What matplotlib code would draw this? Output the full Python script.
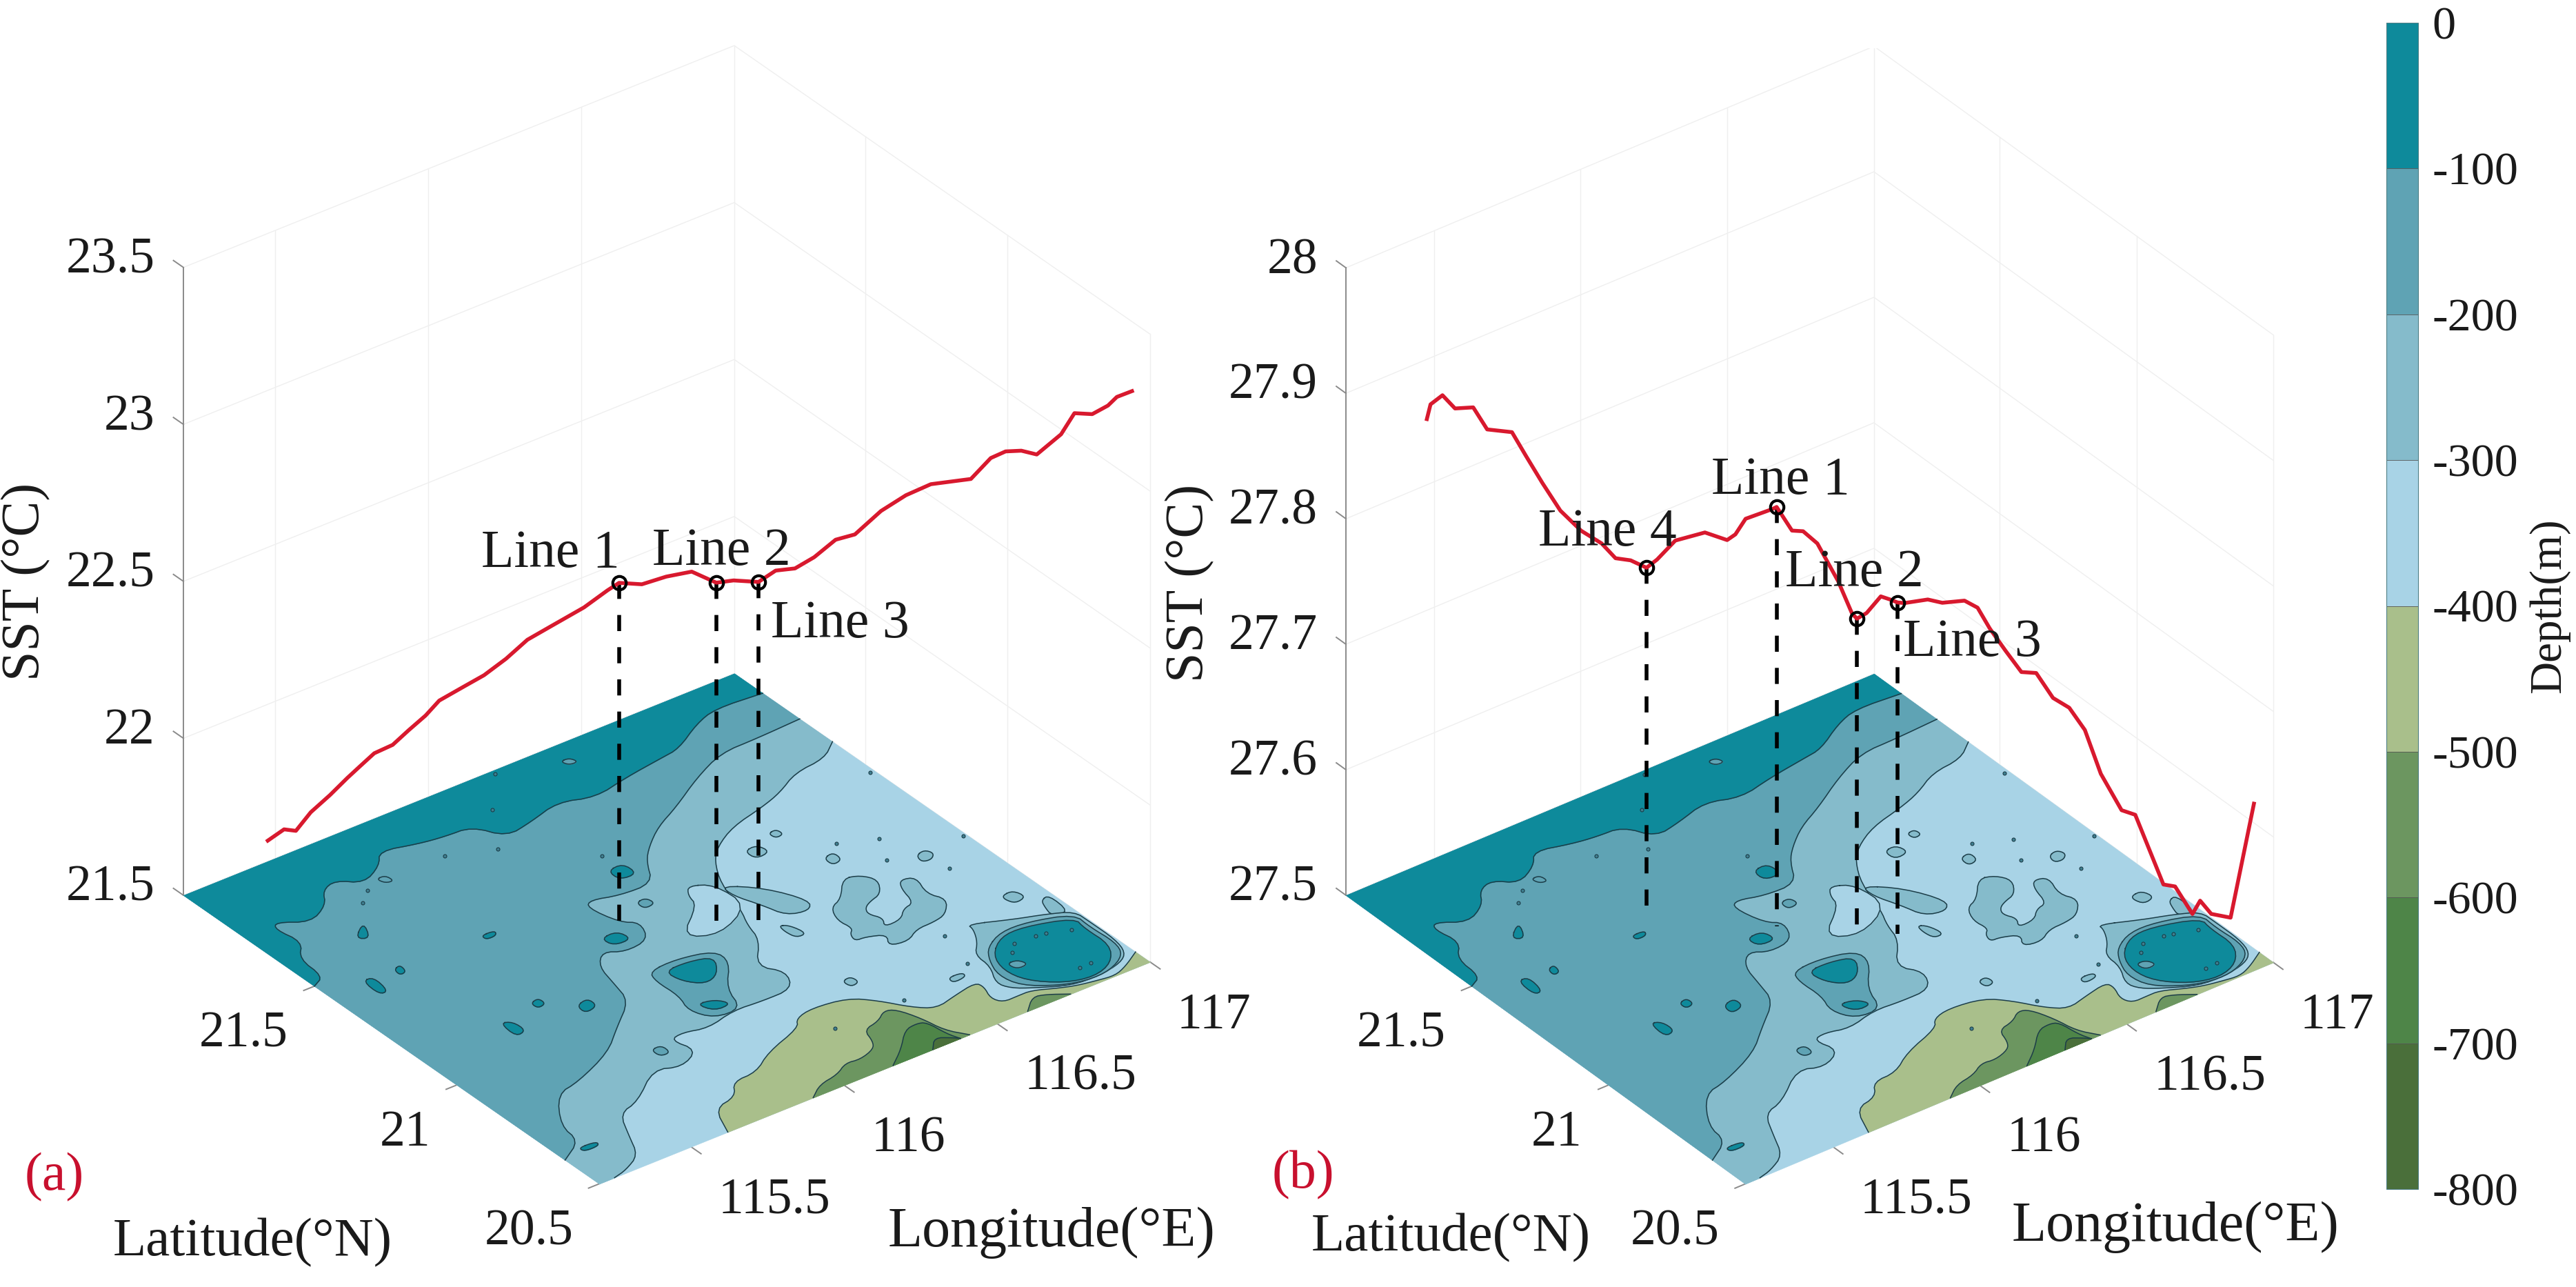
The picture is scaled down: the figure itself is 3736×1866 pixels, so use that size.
# SST along the transect above the bathymetry, two panels and one colorbar
import numpy as np
import matplotlib
matplotlib.use("Agg")
import matplotlib.pyplot as plt
from matplotlib.colors import ListedColormap, BoundaryNorm
from matplotlib.colorbar import ColorbarBase
from mpl_toolkits.mplot3d import proj3d
from mpl_toolkits.mplot3d.art3d import Poly3DCollection

plt.rcParams['font.family'] = ['Liberation Serif', 'DejaVu Serif']

W, H = 3736, 1866

# ---- axes values
lon_min, lon_max = 115.2, 117.0
lat_min, lat_max = 20.5, 21.96
lon_ticks = [115.5, 116, 116.5, 117]
lat_ticks = [20.5, 21, 21.5]
lon_labels = ["115.5", "116", "116.5", "117"]
lat_labels = ["20.5", "21", "21.5"]
z_ticks_a = [21.5, 22, 22.5, 23, 23.5]
z_labels_a = ["21.5", "22", "22.5", "23", "23.5"]
z_ticks_b = [27.5, 27.6, 27.7, 27.8, 27.9, 28]
z_labels_b = ["27.5", "27.6", "27.7", "27.8", "27.9", "28"]

# ---- depth colorbar
depth_levels = [-800, -700, -600, -500, -400, -300, -200, -100, 0]
depth_labels = ["-800", "-700", "-600", "-500", "-400", "-300", "-200", "-100", "0"]
band0, band1, band2, band3 = "#0E8A9B", "#5FA3B4", "#85BBCB", "#A8D3E6"
band4, band5, band6, band7 = "#A9BF8B", "#6C9660", "#4E8548", "#4A6F3A"

# ---- SST along the transect, panel a
lon_a = [115.35, 115.38, 115.40, 115.43, 115.465, 115.50, 115.525, 115.55, 115.585, 115.615,
         115.647, 115.673, 115.72, 115.757, 115.80, 115.84, 115.885, 115.946, 115.99, 116.012,
         116.055, 116.10, 116.149, 116.195, 116.228, 116.275, 116.307, 116.344, 116.38, 116.42,
         116.457, 116.506, 116.553, 116.60, 116.675, 116.713, 116.74, 116.77, 116.80, 116.845,
         116.87, 116.904, 116.934, 116.95, 116.98]
lat_a = [21.825, 21.80, 21.78, 21.76, 21.73, 21.707, 21.687, 21.666, 21.639, 21.615,
         21.59, 21.57, 21.533, 21.503, 21.472, 21.44, 21.403, 21.355, 21.32, 21.303,
         21.269, 21.232, 21.195, 21.158, 21.133, 21.096, 21.07, 21.042, 21.013, 20.981,
         20.953, 20.914, 20.877, 20.84, 20.78, 20.751, 20.728, 20.705, 20.683, 20.646,
         20.626, 20.60, 20.577, 20.563, 20.542]
sst_a = [21.70, 21.74, 21.74, 21.80, 21.86, 21.915, 21.957, 22.00, 22.03, 22.08,
         22.13, 22.18, 22.23, 22.27, 22.325, 22.39, 22.44, 22.505, 22.564, 22.59,
         22.59, 22.62, 22.64, 22.61, 22.62, 22.62, 22.66, 22.67, 22.71, 22.77,
         22.79, 22.87, 22.925, 22.965, 22.99, 23.06, 23.085, 23.09, 23.08, 23.15,
         23.22, 23.22, 23.25, 23.28, 23.30]
line_lon_a = [116.012, 116.195, 116.275]
line_lat_a = [21.303, 21.158, 21.096]
line_sst_a = [22.59, 22.61, 22.62]

# ---- SST along the transect, panel b
lon_b = [115.35, 115.357, 115.38, 115.405, 115.44, 115.468, 115.517, 115.544, 115.577, 115.612,
         115.653, 115.693, 115.72, 115.75, 115.781, 115.802, 115.838, 115.896, 115.94, 115.956,
         115.976, 116.028, 116.037, 116.067, 116.089, 116.117, 116.158, 116.185, 116.195, 116.214,
         116.242, 116.26, 116.275, 116.288, 116.334, 116.363, 116.406, 116.432, 116.456, 116.487,
         116.518, 116.547, 116.58, 116.612, 116.643, 116.674, 116.715, 116.742, 116.797, 116.82,
         116.854, 116.869, 116.891, 116.929, 116.975]
lat_b = [21.825, 21.819, 21.80, 21.781, 21.752, 21.731, 21.693, 21.671, 21.646, 21.618,
         21.586, 21.554, 21.532, 21.509, 21.484, 21.468, 21.44, 21.394, 21.36, 21.347,
         21.331, 21.29, 21.283, 21.259, 21.242, 21.22, 21.188, 21.166, 21.159, 21.144,
         21.122, 21.108, 21.096, 21.085, 21.049, 21.027, 20.992, 20.972, 20.953, 20.928,
         20.904, 20.881, 20.855, 20.83, 20.806, 20.781, 20.749, 20.728, 20.684, 20.666,
         20.639, 20.627, 20.61, 20.58, 20.544]
sst_b = [27.886, 27.898, 27.906, 27.896, 27.898, 27.881, 27.88, 27.862, 27.841, 27.82,
         27.805, 27.796, 27.785, 27.784, 27.779, 27.786, 27.802, 27.81, 27.805, 27.81,
         27.823, 27.832, 27.834, 27.816, 27.816, 27.807, 27.778, 27.753, 27.749, 27.754,
         27.768, 27.766, 27.764, 27.764, 27.768, 27.766, 27.769, 27.764, 27.748, 27.731,
         27.715, 27.715, 27.696, 27.689, 27.672, 27.638, 27.61, 27.607, 27.553, 27.552,
         27.531, 27.542, 27.532, 27.53, 27.622]
line_lon_b = [116.037, 116.195, 116.275, 115.781]
line_lat_b = [21.283, 21.159, 21.096, 21.484]
line_sst_b = [27.834, 27.749, 27.764, 27.779]

# ---- depth contours, open lines that run from edge to edge of the map
c100_lon = [115.2, 115.247, 115.25, 115.307, 115.288, 115.31, 115.384, 115.465, 115.503, 115.557,
            115.611, 115.693, 115.736, 115.838, 115.915, 116.0, 116.044, 116.137, 116.25, 116.345,
            116.465, 116.597, 116.662, 116.772, 116.853, 117.0]
c100_lat = [21.50, 21.521, 21.607, 21.658, 21.732, 21.755, 21.709, 21.745, 21.796, 21.812,
            21.766, 21.802, 21.849, 21.822, 21.811, 21.808, 21.731, 21.747, 21.776, 21.742,
            21.766, 21.783, 21.791, 21.847, 21.871, 21.86]
c200_lon = [117.0, 116.851, 116.734, 116.612, 116.481, 116.386, 116.309, 116.259, 116.206, 116.102,
            116.026, 115.998, 116.022, 116.064, 116.029, 115.946, 115.897, 115.847, 115.827, 115.806,
            115.701, 115.61, 115.461, 115.381, 115.293, 115.286, 115.2]
c200_lat = [21.73, 21.723, 21.722, 21.674, 21.607, 21.567, 21.516, 21.472, 21.394, 21.397,
            21.42, 21.40, 21.311, 21.284, 21.219, 21.209, 21.239, 21.196, 21.122, 21.048,
            20.977, 20.91, 20.854, 20.841, 20.735, 20.665, 20.62]
c300_lon = [117.0, 116.934, 116.829, 116.74, 116.659, 116.54, 116.45, 116.40, 116.347, 116.309,
            116.278, 116.259, 116.172, 116.22, 116.18, 116.082, 115.992, 115.891, 115.822, 115.775,
            115.801, 115.72, 115.651, 115.525, 115.452, 115.405, 115.365, 115.296, 115.25]
c300_lat = [21.615, 21.572, 21.563, 21.52, 21.496, 21.471, 21.427, 21.384, 21.306, 21.193,
            21.138, 21.075, 20.993, 20.939, 20.876, 20.875, 20.882, 20.858, 20.877, 20.868,
            20.803, 20.767, 20.797, 20.714, 20.698, 20.616, 20.542, 20.51, 20.5]
c400_lon = [115.62, 115.663, 115.742, 115.78, 115.858, 115.941, 116.076, 116.10, 116.162, 116.267,
            116.322, 116.372, 116.421, 116.496, 116.576, 116.583, 116.562, 116.577, 116.627, 116.669,
            116.734, 116.779, 116.836, 116.888, 116.936, 117.0]
c400_lat = [20.5, 20.591, 20.604, 20.654, 20.655, 20.703, 20.743, 20.775, 20.788, 20.774,
            20.727, 20.663, 20.627, 20.644, 20.659, 20.635, 20.59, 20.561, 20.562, 20.562,
            20.534, 20.519, 20.509, 20.502, 20.518, 20.551]
c500_lon = [115.899, 115.951, 116.018, 116.068, 116.111, 116.168, 116.19, 116.206, 116.262, 116.303,
            116.333, 116.359, 116.372, 116.41]
c500_lat = [20.50, 20.533, 20.543, 20.569, 20.562, 20.578, 20.603, 20.651, 20.661, 20.687,
            20.675, 20.614, 20.547, 20.5]
c500b_lon = [116.60, 116.652, 116.689, 116.74]
c500b_lat = [20.5, 20.54, 20.53, 20.5]
c600_lon = [116.16, 116.225, 116.29, 116.333, 116.358, 116.366, 116.38]
c600_lat = [20.5, 20.542, 20.598, 20.604, 20.595, 20.532, 20.5]
c700_lon = [116.29, 116.328, 116.365, 116.38]
c700_lat = [20.5, 20.536, 20.513, 20.5]

# ---- seamount near the right corner, three rings
mount300_lon = [116.734, 116.844, 116.928, 116.994, 116.995, 116.995, 116.978, 116.937, 116.857,
                116.768, 116.682, 116.634, 116.618, 116.657, 116.659, 116.702, 116.732]
mount300_lat = [20.856, 20.813, 20.787, 20.759, 20.707, 20.617, 20.563, 20.536, 20.522,
                20.526, 20.567, 20.596, 20.632, 20.692, 20.748, 20.786, 20.832]
mount200_lon = [116.708, 116.78, 116.868, 116.986, 116.98, 116.987, 116.965, 116.893, 116.815,
                116.742, 116.663, 116.646, 116.673]
mount200_lat = [20.756, 20.789, 20.786, 20.751, 20.69, 20.608, 20.558, 20.525, 20.522,
                20.542, 20.591, 20.654, 20.714]
mount100_lon = [116.696, 116.765, 116.843, 116.975, 116.965, 116.969, 116.918, 116.842, 116.76,
                116.689, 116.672]
mount100_lat = [20.725, 20.773, 20.776, 20.738, 20.693, 20.607, 20.548, 20.525, 20.544,
                20.601, 20.663]

# ---- closed patches, -300 to -400 hole in the slope
hole_lon = [116.272, 116.33, 116.336, 116.194, 116.106, 116.232, 116.243]
hole_lat = [21.34, 21.309, 21.201, 21.141, 21.183, 21.266, 21.309]

# ---- closed patches of -200 to -300
blobs_300 = [
    ([116.491, 116.534, 116.544, 116.493], [21.377, 21.382, 21.344, 21.338]),
    ([116.593, 116.621, 116.624, 116.596], [21.403, 21.407, 21.383, 21.379]),
    ([116.634, 116.671, 116.669, 116.633], [21.252, 21.26, 21.226, 21.219]),
    ([116.834, 116.866, 116.878, 116.854, 116.826], [21.142, 21.15, 21.128, 21.11, 21.115]),
    ([116.895, 116.929, 116.939, 116.897, 116.885], [20.904, 20.905, 20.87, 20.861, 20.889]),
    ([116.535, 116.58, 116.576, 116.531], [20.71, 20.708, 20.691, 20.687]),
    ([116.305, 116.336, 116.34, 116.309], [20.834, 20.84, 20.812, 20.806]),
    ([116.341, 116.364, 116.376, 116.342, 116.335], [21.096, 21.081, 21.035, 21.034, 21.067]),
    ([116.34, 116.424, 116.48, 116.45, 116.387, 116.367, 116.335],
     [21.298, 21.233, 21.136, 21.104, 21.119, 21.182, 21.251]),
    ([116.959, 116.99, 116.983, 116.935, 116.945], [20.838, 20.845, 20.765, 20.776, 20.809]),
    ([116.613, 116.659, 116.683, 116.646, 116.602, 116.573, 116.559, 116.579, 116.555, 116.613,
      116.648, 116.688, 116.704, 116.728, 116.769, 116.741, 116.768, 116.72, 116.673, 116.614,
      116.564, 116.507, 116.538, 116.486, 116.453, 116.462, 116.486, 116.477, 116.502, 116.549],
     [21.164, 21.151, 21.114, 21.066, 21.055, 21.041, 21.017, 20.985, 20.955, 20.958,
      20.988, 20.995, 21.056, 21.086, 21.073, 21.007, 20.964, 20.917, 20.907, 20.906,
      20.879, 20.889, 20.927, 20.947, 20.948, 20.975, 20.992, 21.036, 21.085, 21.101]),
]

# ---- closed patches of -100 to -200
blobs_200 = [
    ([116.114, 116.147, 116.153, 116.114], [21.352, 21.356, 21.327, 21.322]),
    ([115.706, 115.741, 115.739, 115.706], [20.862, 20.863, 20.829, 20.83]),
    ([115.937, 116.028, 116.133, 116.132, 116.045, 116.017, 115.933, 115.90, 115.925, 115.92],
     [21.115, 21.12, 21.097, 21.043, 20.961, 20.879, 20.882, 20.94, 20.998, 21.076]),
    ([116.378, 116.406, 116.415, 116.386], [21.902, 21.902, 21.879, 21.88]),
    ([115.647, 115.676, 115.679, 115.654], [21.763, 21.763, 21.735, 21.739]),
    ([116.698, 116.731, 116.743, 116.704], [20.679, 20.678, 20.651, 20.649]),
]

# ---- closed patches of 0 to -100
blobs_100 = [
    ([116.15, 116.203, 116.204, 116.148], [21.491, 21.495, 21.445, 21.447]),
    ([115.934, 115.989, 115.998, 115.94], [21.283, 21.286, 21.243, 21.244]),
    ([115.967, 116.046, 116.115, 116.07, 116.017, 115.975], [21.096, 21.097, 21.078, 21.019, 21.003, 21.042]),
    ([115.935, 115.988, 116.011, 115.955], [20.95, 20.941, 20.907, 20.905]),
    ([115.315, 115.349, 115.339, 115.31], [21.454, 21.453, 21.39, 21.39]),
    ([115.414, 115.44, 115.434, 115.41], [21.45, 21.458, 21.429, 21.425]),
    ([115.474, 115.504, 115.506, 115.467], [21.143, 21.13, 21.086, 21.079]),
    ([115.684, 115.728, 115.727, 115.68], [21.099, 21.109, 21.073, 21.064]),
    ([115.596, 115.626, 115.627, 115.597], [21.166, 21.173, 21.147, 21.141]),
    ([115.696, 115.739, 115.727, 115.694], [21.447, 21.445, 21.428, 21.428]),
    ([115.427, 115.492, 115.458], [21.60, 21.642, 21.581]),
    ([115.264, 115.32, 115.314, 115.266], [20.642, 20.639, 20.623, 20.623]),
]

# ---- tiny soundings
dots_lon = [116.807, 116.705, 116.76, 116.617, 116.653, 116.376, 116.151, 116.775, 116.743, 116.871,
            116.842, 116.935, 116.876, 116.837, 116.99, 116.986, 116.865, 116.182, 115.857, 115.989,
            116.094, 115.549, 115.595, 116.205]
dots_lat = [21.243, 21.285, 21.166, 20.73, 20.849, 20.695, 20.694, 20.734, 20.709, 20.726,
            20.731, 20.705, 20.574, 20.573, 21.145, 21.467, 21.059, 21.546, 21.749, 21.703,
            21.837, 21.705, 21.738, 21.946]

line_col = "#1c3d48"


def round_off(xs, ys, closed):
    # corner cutting, only to draw the outline rounder
    p = np.column_stack([xs, ys])
    for _ in range(2):
        if closed:
            q = np.roll(p, -1, axis=0)
            p = np.column_stack([0.75 * p + 0.25 * q, 0.25 * p + 0.75 * q]).reshape(-1, 2)
        else:
            a, b = p[:-1], p[1:]
            mid = np.column_stack([0.75 * a + 0.25 * b, 0.25 * a + 0.75 * b]).reshape(-1, 2)
            p = np.vstack([p[0], mid, p[-1]])
    return list(p[:, 0]), list(p[:, 1])


def patch(ax, lon, lat, z, color, order, close_lon=(), close_lat=(), closed=True):
    lx, ly = round_off(lon, lat, closed)
    xs = lx + list(close_lon)
    ys = ly + list(close_lat)
    verts = [list(zip(xs, ys, [z] * len(xs)))]
    col = Poly3DCollection(verts, facecolors=color, edgecolors=color, linewidths=0.2, zorder=order)
    ax.add_collection3d(col)
    if closed:
        lx.append(lx[0])
        ly.append(ly[0])
    ax.plot(lx, ly, [z] * len(lx), color=line_col, lw=0.55, zorder=order + 0.5)


def draw_floor(ax, z):
    verts = [[(lon_min, lat_min, z), (lon_max, lat_min, z), (lon_max, lat_max, z), (lon_min, lat_max, z)]]
    ax.add_collection3d(Poly3DCollection(verts, facecolors=band3, edgecolors=band3, linewidths=0.2, zorder=2))
    patch(ax, c400_lon, c400_lat, z, band4, 3, [117.0], [20.5], closed=False)
    patch(ax, c500_lon, c500_lat, z, band5, 4, closed=False)
    patch(ax, c500b_lon, c500b_lat, z, band5, 4, closed=False)
    patch(ax, c600_lon, c600_lat, z, band6, 5, closed=False)
    patch(ax, c700_lon, c700_lat, z, band7, 6, closed=False)
    patch(ax, c300_lon, c300_lat, z, band2, 7, [lon_min, lon_min, lon_max], [lat_min, lat_max, lat_max], closed=False)
    patch(ax, hole_lon, hole_lat, z, band3, 8)
    patch(ax, c200_lon, c200_lat, z, band1, 9, [lon_min, lon_max], [lat_max, lat_max], closed=False)
    patch(ax, c100_lon, c100_lat, z, band0, 10, [lon_max, lon_min], [lat_max, lat_max], closed=False)
    for blon, blat in blobs_300:
        patch(ax, blon, blat, z, band2, 11)
    patch(ax, mount300_lon, mount300_lat, z, band2, 12)
    patch(ax, mount200_lon, mount200_lat, z, band1, 13)
    patch(ax, mount100_lon, mount100_lat, z, band0, 14)
    for blon, blat in blobs_200:
        patch(ax, blon, blat, z, band1, 15)
    for blon, blat in blobs_100:
        patch(ax, blon, blat, z, band0, 16)
    ax.plot(dots_lon, dots_lat, [z] * len(dots_lon), ls="none", marker="o", ms=1.8,
            mfc="#3f7f90", mec=line_col, mew=0.4, zorder=17)


def draw_walls(ax, zt):
    grid = dict(color="#efefef", lw=0.5, zorder=1)
    for lo in lon_ticks:
        ax.plot([lo, lo], [lat_max, lat_max], [zt[0], zt[-1]], **grid)
    for la in lat_ticks:
        ax.plot([lon_max, lon_max], [la, la], [zt[0], zt[-1]], **grid)
    for zv in zt:
        ax.plot([lon_min, lon_max, lon_max], [lat_max, lat_max, lat_min], [zv, zv, zv], **grid)
    # z axis and the small ticks
    tick = dict(color="#8a8a8a", lw=0.7, zorder=1.5)
    ax.plot([lon_min, lon_min], [lat_max, lat_max], [zt[0], zt[-1]], **tick)
    for zv in zt:
        ax.plot([lon_min, lon_min], [lat_max, lat_max + 0.035], [zv, zv], **tick)
    for lo in lon_ticks:
        ax.plot([lo, lo], [lat_min, lat_min - 0.035], [zt[0], zt[0]], **tick)
    for la in lat_ticks:
        ax.plot([lon_min, lon_min - 0.035], [la, la], [zt[0], zt[0]], **tick)


def make_panel(elev, aspect, zt, lon, lat, sst, mlon, mlat, msst, left_px, right_px):
    ax = fig.add_axes([0, 0, 1, 1], projection="3d", proj_type="ortho", computed_zorder=False)
    ax.set_axis_off()
    ax.patch.set_alpha(0)
    ax.view_init(elev=elev, azim=-127.3)
    ax.set_box_aspect(aspect)
    ax.set_xlim(lon_min, lon_max, view_margin=0)
    ax.set_ylim(lat_min, lat_max, view_margin=0)
    ax.set_zlim(zt[0], zt[-1], view_margin=0)

    draw_walls(ax, zt)
    draw_floor(ax, zt[0])
    for lo, la, s in zip(mlon, mlat, msst):
        ax.plot([lo, lo], [la, la], [s, zt[0]], color="black", lw=2.0,
                dashes=(4.2, 4.2), zorder=20)
    ax.plot(lon, lat, sst, color="#D8192E", lw=2.0, zorder=21)
    ax.plot(mlon, mlat, msst, ls="none", marker="o", ms=7, mfc="none", mec="black", mew=1.5, zorder=22)

    # scale and move the axes so the floor corners land where they should
    for _ in range(2):
        fig.canvas.draw()
        p_l = to_px(ax, lon_min, lat_max, zt[0])
        p_r = to_px(ax, lon_max, lat_min, zt[0])
        k = (right_px[0] - left_px[0]) / (p_r[0] - p_l[0])
        bb = ax.get_window_extent()
        cx, cy = (bb.x0 + bb.x1) / 2, (bb.y0 + bb.y1) / 2
        side = bb.width * k
        ncx = left_px[0] - k * (p_l[0] - cx)
        ncy = (H - left_px[1]) - k * ((H - p_l[1]) - cy)
        ax.set_position([(ncx - side / 2) / W, (ncy - side / 2) / H, side / W, side / H])
    fig.canvas.draw()
    return ax


def to_px(ax, x, y, z):
    # pixel position with the y going down, as in the picture
    px, py, _ = proj3d.proj_transform(x, y, z, ax.get_proj())
    dx, dy = ax.transData.transform((px, py))
    return dx, H - dy


def text_px(x, y, s, size=26.5, ha="center", va="center", **kw):
    fig.text(x / W, 1 - y / H, s, fontsize=size, ha=ha, va=va, color=kw.pop("color", "#1a1a1a"), **kw)


def tick_labels(ax, zt, zl):
    z0 = zt[0]
    for v, s in zip(zt, zl):
        x, y = to_px(ax, lon_min, lat_max, v)
        text_px(x - 41, y - 10, s, ha="right")
    for v, s in zip(lat_ticks, lat_labels):
        x, y = to_px(ax, lon_min, v, z0)
        text_px(x - 38, y + 70, s, ha="right")
    for v, s in zip(lon_ticks, lon_labels):
        x, y = to_px(ax, v, lat_min, z0)
        text_px(x + 39, y + 78, s, ha="left")


fig = plt.figure(figsize=(W / 200, H / 200), dpi=200, facecolor="white")

ax_a = make_panel(31.9, (1005, 996, 1073), z_ticks_a, lon_a, lat_a, sst_a,
                  line_lon_a, line_lat_a, line_sst_a, (266, 1298), (1668, 1394))
ax_b = make_panel(33.4, (963, 956, 1090), z_ticks_b, lon_b, lat_b, sst_b,
                  line_lon_b, line_lat_b, line_sst_b, (1952, 1298), (3297, 1395))

tick_labels(ax_a, z_ticks_a, z_labels_a)
tick_labels(ax_b, z_ticks_b, z_labels_b)

text_px(38, 843, "SST (°C)", size=28, rotation=90)
text_px(1726, 845, "SST (°C)", size=28, rotation=90)
text_px(366, 1802, "Latitude(°N)", size=28.5)
text_px(2104, 1795, "Latitude(°N)", size=28.5)
text_px(1525, 1787, "Longitude(°E)", size=29.5)
text_px(3155, 1779, "Longitude(°E)", size=29.5)
text_px(79, 1707, "(a)", size=28, color="#C8102E")
text_px(1890, 1704, "(b)", size=28, color="#C8102E")

text_px(798, 803, "Line 1", size=28)
text_px(1046, 800, "Line 2", size=28)
text_px(1218, 905, "Line 3", size=28)
text_px(2582, 697, "Line 1", size=28)
text_px(2689, 831, "Line 2", size=28)
text_px(2860, 932, "Line 3", size=28)
text_px(2331, 772, "Line 4", size=28)

# colorbar
cax = fig.add_axes([3461 / W, 1 - 1724 / H, 46 / W, (1724 - 33) / H])
cmap = ListedColormap([band7, band6, band5, band4, band3, band2, band1, band0])
cb = ColorbarBase(cax, cmap=cmap, norm=BoundaryNorm(depth_levels, cmap.N), ticks=depth_levels,
                  spacing="proportional", drawedges=True)
cb.dividers.set_color("#555555")
cb.dividers.set_linewidth(0.3)
cb.outline.set_edgecolor("#4f7f86")
cb.outline.set_linewidth(0.4)
cb.set_ticklabels(depth_labels)
cax.tick_params(length=0, labelsize=24.5, pad=7.5, labelcolor="#1a1a1a")
text_px(3697, 878, "Depth(m)", size=23.5, rotation=90)

fig.savefig("out.png", dpi=200, facecolor="white")
